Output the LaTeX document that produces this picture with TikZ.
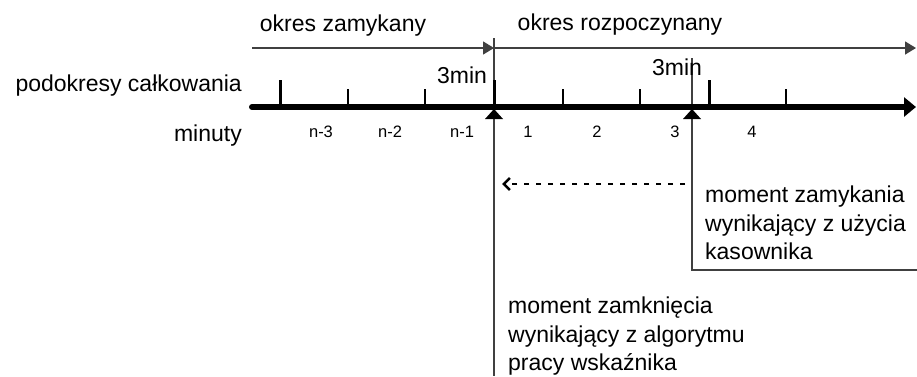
\documentclass[tikz,border=0pt]{standalone}
\usepackage{fontspec}
\setmainfont{Liberation Sans}
\usetikzlibrary{arrows.meta}
\definecolor{ink}{HTML}{000000}
\definecolor{guidegray}{HTML}{404040}
\tikzset{
  guide/.style={draw=guidegray, line width=1.5pt},
  period/.style={guide, -{Triangle[length=11pt,width=13pt]}},
  timeline/.style={draw=ink, line width=6pt, line cap=round, -{Triangle[length=12pt,width=19pt]}},
  bigtick/.style={draw=ink, line width=3pt},
  smalltick/.style={draw=ink, line width=2pt},
  marker/.style={fill=ink},
  back/.style={draw=ink, line width=2.6pt, dash pattern=on 5pt off 7pt, -{Straight Barb[length=6pt,width=12pt]}},
  lab/.style={text=ink, font=\fontsize{23}{28.5}\selectfont, inner sep=0pt},
  labs/.style={text=ink, font=\fontsize{16.5}{20}\selectfont, inner sep=0pt}
}

\begin{document}
\begin{tikzpicture}[x=1pt,y=-1pt]
  \useasboundingbox (0,0) rectangle (917,376);
  \coordinate (S) at (252,48);
  \coordinate (C) at (494,48);
  \coordinate (E) at (916,48);
  \coordinate (A0) at (252,107);
  \coordinate (A1) at (916,107);
  \coordinate (K) at (692,58);
  \coordinate (Kb) at (692,270);
  \coordinate (Kr) at (917,270);
  % periods
  \draw[period] (S) -- (C);
  \draw[period] (C) -- (E);
  \node[lab,anchor=base] (zam) at (343,31) {okres zamykany};
  \node[lab,anchor=base] (roz) at (620,30) {okres rozpoczynany};
  % moments
  \draw[guide] (494,38) -- (494,376);
  \draw[guide] (K) -- (Kb) -- (Kr);
  % time axis
  \draw[timeline] (A0) -- (A1);
  \foreach \x in {280,494,709}
    \draw[bigtick] (\x,80) -- (\x,107);
  \foreach \x in {348,425,563,640,786}
    \draw[smalltick] (\x,89) -- (\x,107);
  \foreach \x in {494,692}
    \fill[marker] (\x,109) -- (\x-9,119) -- (\x+9,119) -- cycle;
  \node[lab,anchor=base east] (pod) at (242,91) {podokresy całkowania};
  \node[lab,anchor=base east] (min) at (242,141) {minuty};
  \foreach \x/\t in {321/n-3,390/n-2,462/n-1,528/1,597/2,675/3,752/4}
    \node[labs,anchor=base] at (\x,137) {\t};
  \node[lab,anchor=base] (m1) at (462,83) {3min};
  \node[lab,anchor=base] (m2) at (677,75) {3min};
  % closing moments
  \coordinate (D0) at (685,184);
  \coordinate (D1) at (502,184);
  \draw[back] (D0) -- (D1);
  \node[lab,anchor=north west,align=left] (kas) at (705,186)
    {moment zamykania\\wynikający z użycia\\kasownika};
  \node[lab,anchor=north west,align=left] (alg) at (508,297)
    {moment zamknięcia\\wynikający z algorytmu\\pracy wskaźnika};
\end{tikzpicture}
\end{document}
